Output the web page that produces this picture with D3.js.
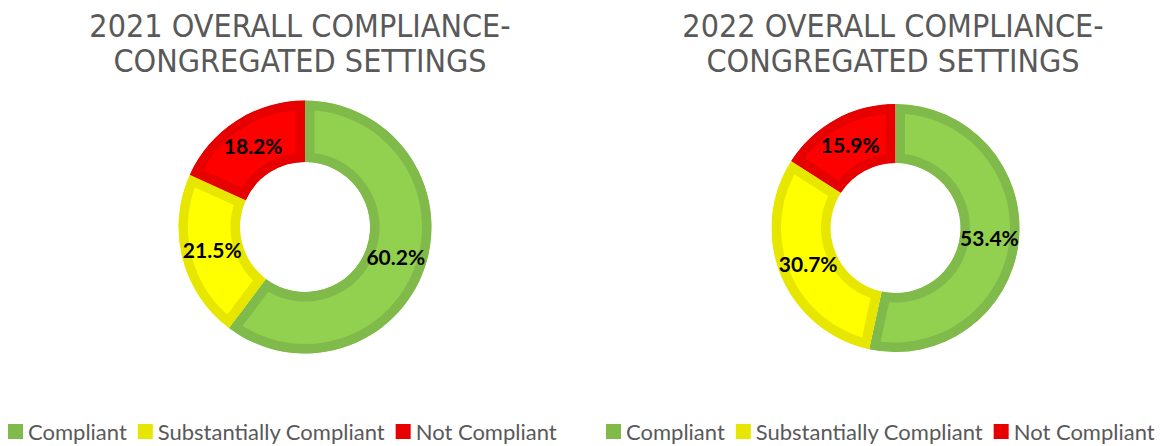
<!DOCTYPE html>
<html>
<head>
<meta charset="utf-8">
<script src="https://cdn.jsdelivr.net/npm/d3@7"></script>
<style>
  html, body { margin: 0; padding: 0; background: #ffffff; }
  svg { display: block; }
</style>
</head>
<body>
<svg id="chart" width="1166" height="446"></svg>
<script>
// ---- data ----
const categories = ["Compliant", "Substantially Compliant", "Not Compliant"];
const values2021 = [60.2, 21.5, 18.2];
const values2022 = [53.4, 30.7, 15.9];
const titles2021 = ["2021 OVERALL COMPLIANCE-", "CONGREGATED SETTINGS"];
const titles2022 = ["2022 OVERALL COMPLIANCE-", "CONGREGATED SETTINGS"];

// ---- styles ----
const fillColors = ["#92D050", "#FFFF00", "#FF0000"];
const borderColors = ["#80BA4A", "#E6E600", "#E60000"];
const textGrey = "#595959";

const svg = d3.select("#chart");
const defs = svg.append("defs");

const panels = [
  { values: values2021, titles: titles2021, cx: 305, cy: 227, outer: 126.5, inner: 65, titleX: 300, legendX: 8 },
  { values: values2022, titles: titles2022, cx: 895.5, cy: 228, outer: 124, inner: 65, titleX: 893, legendX: 606 }
];

const pie = d3.pie().sort(null).value(d => d.value).startAngle(0).endAngle(2 * Math.PI);

panels.forEach((p, pi) => {
  const g = svg.append("g");

  // title
  const title = g.append("text")
    .attr("x", p.titleX)
    .attr("text-anchor", "middle")
    .attr("fill", textGrey)
    .style("font-family", "'DejaVu Sans Condensed', 'DejaVu Sans', sans-serif")
    .style("font-size", "32px");
  p.titles.forEach((t, i) => {
    title.append("tspan").attr("x", p.titleX).attr("y", 37 + i * 35).text(t);
  });

  // donut
  const data = categories.map((c, i) => ({ cat: c, value: p.values[i], i }));
  const arcs = pie(data);
  const arc = d3.arc().innerRadius(p.inner).outerRadius(p.outer);
  const mid = (p.inner + p.outer) / 2;
  const labelArc = d3.arc().innerRadius(mid).outerRadius(mid);

  const dg = g.append("g").attr("transform", `translate(${p.cx},${p.cy})`);
  arcs.forEach((a, i) => {
    const id = `clip-${pi}-${i}`;
    defs.append("clipPath").attr("id", id)
      .append("path").attr("d", arc(a));
    dg.append("path")
      .attr("d", arc(a))
      .attr("fill", fillColors[a.data.i])
      .attr("stroke", borderColors[a.data.i])
      .attr("stroke-width", 19)
      .attr("stroke-linejoin", "miter")
      .attr("clip-path", `url(#${id})`);
  });

  dg.selectAll("text.lbl")
    .data(arcs)
    .enter().append("text")
    .attr("class", "lbl")
    .attr("transform", d => `translate(${labelArc.centroid(d)})`)
    .attr("text-anchor", "middle")
    .attr("dy", "0.36em")
    .attr("fill", "#000000")
    .style("font-family", "Lato, 'Open Sans', sans-serif")
    .style("font-weight", "bold")
    .style("font-size", "21px")
    .text(d => d.data.value.toFixed(1) + "%");

  // legend
  const lg = g.append("g");
  let x = p.legendX;
  categories.forEach((c, i) => {
    lg.append("rect")
      .attr("x", x).attr("y", 424)
      .attr("width", 15).attr("height", 15)
      .attr("fill", borderColors[i]);
    const t = lg.append("text")
      .attr("x", x + 20).attr("y", 440)
      .attr("fill", textGrey)
      .style("font-family", "Lato, 'Open Sans', sans-serif")
      .style("font-size", "22px")
      .text(c);
    x = x + 20 + t.node().getComputedTextLength() + 11;
  });
});
</script>
</body>
</html>
